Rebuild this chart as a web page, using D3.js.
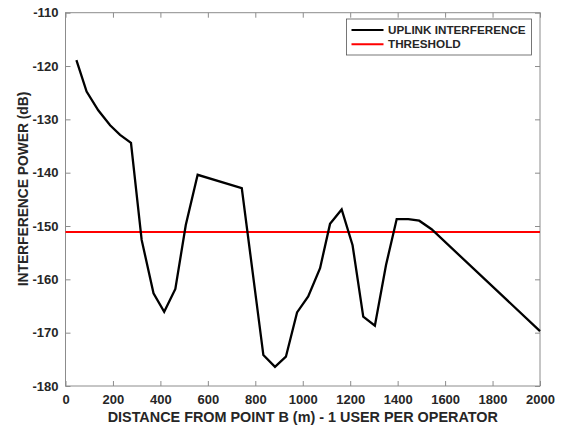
<!DOCTYPE html>
<html>
<head>
<meta charset="utf-8">
<script src="https://cdn.jsdelivr.net/npm/d3@7"></script>
<style>
  html, body { margin: 0; padding: 0; background: #fff; }
  svg { display: block; }
  text { font-family: "Liberation Sans", Arial, Helvetica, sans-serif; font-weight: bold; fill: #262626; }
</style>
</head>
<body>
<svg id="chart" width="563" height="428"></svg>
<script>
// Distance from point B (m) and the uplink interference at each distance (dB)
const distance = [46, 89, 138, 188, 230, 276, 321, 371, 416, 463, 507, 557, 743, 834, 883, 929, 976, 1023, 1073, 1115, 1164, 1210, 1255, 1304, 1351, 1396, 1445, 1491, 1543, 2000];
const interference = [-118.9, -124.8, -128.3, -131.1, -132.9, -134.4, -152.6, -162.6, -166.1, -161.8, -149.8, -140.4, -142.9, -174.2, -176.4, -174.5, -166.2, -163.2, -157.9, -149.6, -146.9, -153.6, -167.0, -168.7, -157.3, -148.7, -148.7, -149.0, -150.6, -169.7];
const threshold = -151.1;

const xTicks = [0, 200, 400, 600, 800, 1000, 1200, 1400, 1600, 1800, 2000];
const yTicks = [-180, -170, -160, -150, -140, -130, -120, -110];

const seriesNames = ["UPLINK INTERFERENCE", "THRESHOLD"];
const seriesColors = ["#000000", "#ff0000"];

const svg = d3.select("#chart");
const margin = { left: 65.5, right: 23, top: 12.7, bottom: 42 };
const W = 563, H = 428;
const x = d3.scaleLinear().domain([0, 2000]).range([margin.left, W - margin.right]);
const y = d3.scaleLinear().domain([-180, -110]).range([H - margin.bottom, margin.top]);

const axisColor = "#8c8c8c";

// plot box
svg.append("rect")
  .attr("x", x(0)).attr("y", y(-110))
  .attr("width", x(2000) - x(0)).attr("height", y(-180) - y(-110))
  .attr("fill", "none").attr("stroke", axisColor).attr("stroke-width", 1);

function styleAxis(g, labels) {
  g.select(".domain").remove();
  g.selectAll(".tick line").attr("stroke", axisColor);
  if (!labels) g.selectAll(".tick text").remove();
  else g.selectAll(".tick text").attr("font-size", 13).attr("fill", "#262626");
}

// bottom / left axes with labels, top / right mirror ticks pointing inward
svg.append("g").attr("transform", `translate(0,${y(-180)})`)
  .call(d3.axisBottom(x).tickValues(xTicks).tickSize(-5).tickPadding(9).tickFormat(d3.format("d")))
  .call(g => styleAxis(g, true));
svg.append("g").attr("transform", `translate(0,${y(-110)})`)
  .call(d3.axisTop(x).tickValues(xTicks).tickSize(-5))
  .call(g => styleAxis(g, false));
svg.append("g").attr("transform", `translate(${x(0)},0)`)
  .call(d3.axisLeft(y).tickValues(yTicks).tickSize(-5).tickPadding(7).tickFormat(d => d3.format("d")(d).replace("−", "-")))
  .call(g => styleAxis(g, true));
svg.append("g").attr("transform", `translate(${x(2000)},0)`)
  .call(d3.axisRight(y).tickValues(yTicks).tickSize(-5))
  .call(g => styleAxis(g, false));

// threshold line
svg.append("line")
  .attr("x1", x(0)).attr("x2", x(2000))
  .attr("y1", y(threshold)).attr("y2", y(threshold))
  .attr("stroke", seriesColors[1]).attr("stroke-width", 2);

// interference curve
const data = distance.map((d, i) => [d, interference[i]]);
svg.append("path")
  .datum(data)
  .attr("d", d3.line().x(d => x(d[0])).y(d => y(d[1])))
  .attr("fill", "none").attr("stroke", seriesColors[0])
  .attr("stroke-width", 2.3).attr("stroke-linejoin", "miter");

// axis titles
svg.append("text")
  .attr("x", (x(0) + x(2000)) / 2).attr("y", 422)
  .attr("text-anchor", "middle").attr("font-size", 14.4)
  .text("DISTANCE FROM POINT B (m) - 1 USER PER OPERATOR");
svg.append("text")
  .attr("transform", `translate(27.5,189) rotate(-90)`)
  .attr("text-anchor", "middle").attr("font-size", 13.8)
  .text("INTERFERENCE POWER (dB)");

// legend
const lg = svg.append("g");
lg.append("rect")
  .attr("x", 346.5).attr("y", 19).attr("width", 185).attr("height", 36)
  .attr("fill", "#fff").attr("stroke", "#555").attr("stroke-width", 0.8);
seriesNames.forEach((name, i) => {
  const cy = 30 + i * 14.3;
  lg.append("line").attr("x1", 351.5).attr("x2", 383.5).attr("y1", cy).attr("y2", cy)
    .attr("stroke", seriesColors[i]).attr("stroke-width", 2);
  lg.append("text").attr("x", 388).attr("y", cy + 4).attr("font-size", 11.7).attr("fill", "#000").text(name);
});
</script>
</body>
</html>
